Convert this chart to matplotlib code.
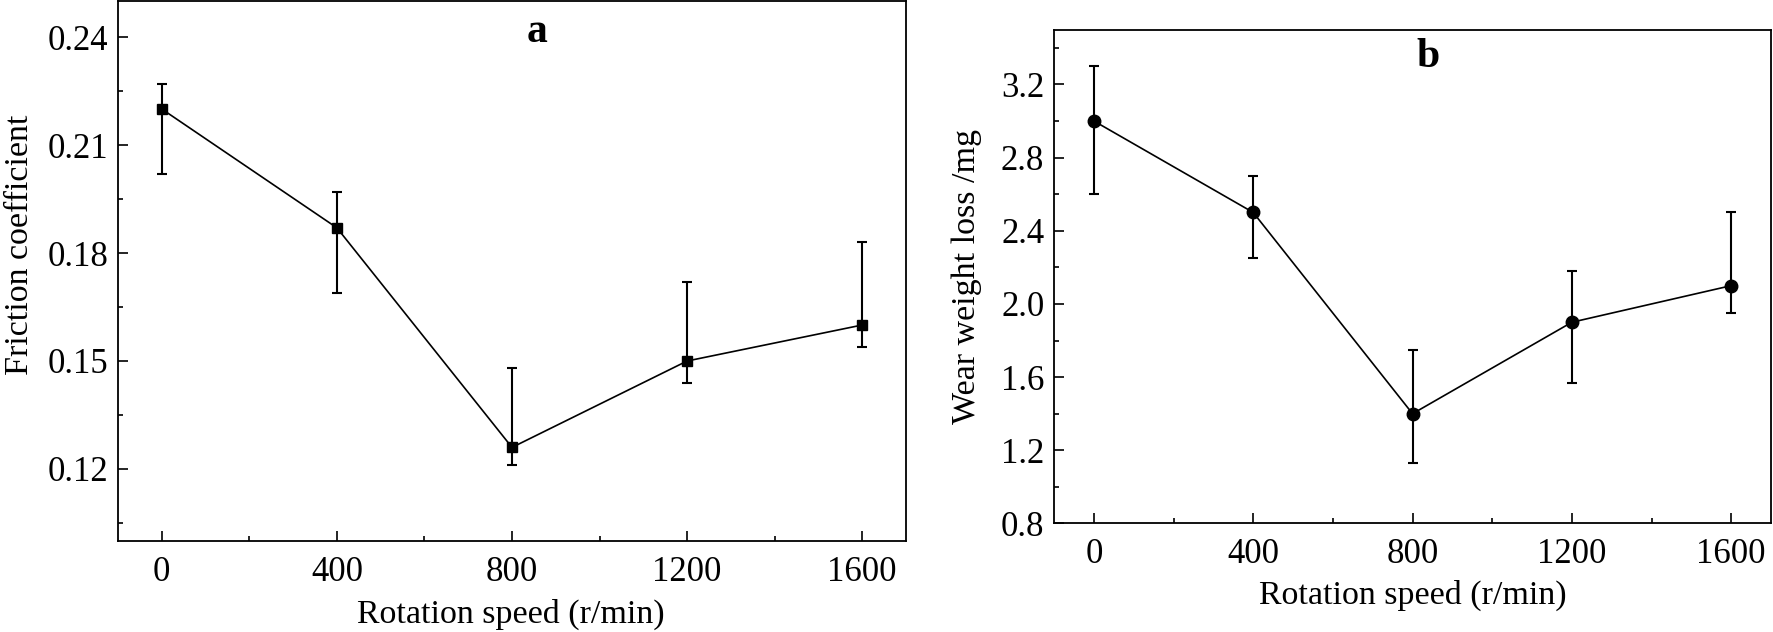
import matplotlib

matplotlib.use("Agg")
import matplotlib.pyplot as plt
from matplotlib.ticker import MultipleLocator

# rotation speed (r/min)
speed = [0, 400, 800, 1200, 1600]

# panel a: friction coefficient, asymmetric error bars
friction = [0.220, 0.187, 0.126, 0.150, 0.160]
friction_lo = [0.202, 0.169, 0.121, 0.144, 0.154]
friction_hi = [0.227, 0.197, 0.148, 0.172, 0.183]

# panel b: wear weight loss (mg)
wear = [3.0, 2.5, 1.4, 1.9, 2.1]
wear_lo = [2.6, 2.25, 1.13, 1.57, 1.95]
wear_hi = [3.3, 2.7, 1.75, 2.18, 2.5]

plt.rcParams["font.family"] = ["Liberation Serif", "DejaVu Serif"]

fig = plt.figure(figsize=(17.73, 6.32), dpi=100)
ax_a = fig.add_axes([0.06655, 0.144, 0.5110 - 0.06655, 0.9984 - 0.144])
ax_b = fig.add_axes([0.5945, 0.1717, 0.9989 - 0.5945, 0.9533 - 0.1717])


def style(ax, ymajor, yminor):
    for sp in ax.spines.values():
        sp.set_linewidth(1.3)
    ax.xaxis.set_major_locator(MultipleLocator(400))
    ax.xaxis.set_minor_locator(MultipleLocator(200))
    ax.yaxis.set_major_locator(MultipleLocator(ymajor))
    ax.yaxis.set_minor_locator(MultipleLocator(yminor))
    ax.tick_params(which="both", direction="in", top=False, right=False, width=1.2, labelsize=25)
    ax.tick_params(which="major", length=7)
    ax.tick_params(which="minor", length=3.5)
    ax.tick_params(axis="x", which="major", pad=10.5)
    ax.tick_params(axis="y", which="major", pad=7)
    ax.set_xlim(-100, 1700)


def draw(ax, y, lo, hi, marker, ms):
    yerr = [[v - l for v, l in zip(y, lo)], [h - v for v, h in zip(y, hi)]]
    ax.errorbar(
        speed, y, yerr=yerr, color="black", marker=marker, ms=ms, lw=1.2,
        elinewidth=1.5, capsize=3.6, capthick=1.5,
    )


draw(ax_a, friction, friction_lo, friction_hi, "s", 7.5)
style(ax_a, 0.03, 0.015)
ax_a.set_ylim(0.10, 0.25)
ax_a.yaxis.set_major_formatter(plt.FormatStrFormatter("%.2f"))
ax_a.set_xlabel("Rotation speed (r/min)", fontsize=24.5)
ax_a.set_ylabel("Friction coefficient", fontsize=24.5)
ax_a.xaxis.set_label_coords(0.4987, -0.107)
ax_a.yaxis.set_label_coords(-0.105, 0.549)
ax_a.text(0.532, 0.9426, "a", transform=ax_a.transAxes, fontsize=30,
          fontweight="bold", ha="center", va="center")

draw(ax_b, wear, wear_lo, wear_hi, "o", 9)
style(ax_b, 0.4, 0.2)
ax_b.set_ylim(0.8, 3.5)
ax_b.yaxis.set_major_formatter(plt.FormatStrFormatter("%.1f"))
ax_b.set_xlabel("Rotation speed (r/min)", fontsize=24.5)
ax_b.set_ylabel("Wear weight loss /mg", fontsize=24.5)
ax_b.xaxis.set_label_coords(0.5, -0.114)
ax_b.yaxis.set_label_coords(-0.1004, 0.5)
ax_b.text(0.5216, 0.945, "b", transform=ax_b.transAxes, fontsize=30,
          fontweight="bold", ha="center", va="center")

fig.savefig("out.png", dpi=100)
